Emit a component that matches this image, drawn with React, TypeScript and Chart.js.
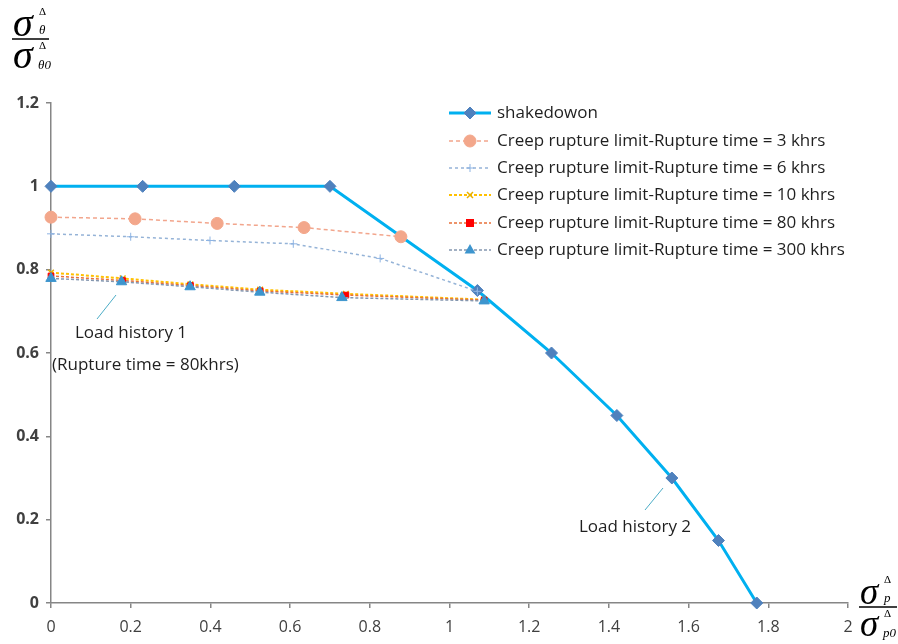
import React, { useEffect, useRef } from "react";
import { Chart, registerables } from "chart.js";

Chart.register(...registerables);

// ---- data ----
const shakedownX = [0, 0.23, 0.46, 0.7, 1.07, 1.256, 1.42, 1.558, 1.675, 1.771];
const shakedownY = [1, 1, 1, 1, 0.75, 0.6, 0.45, 0.3, 0.15, 0];

const rupture3X = [0, 0.211, 0.417, 0.635, 0.878];
const rupture3Y = [0.926, 0.922, 0.911, 0.901, 0.879];

const rupture6X = [0, 0.2, 0.399, 0.608, 0.826, 1.07];
const rupture6Y = [0.886, 0.879, 0.87, 0.862, 0.827, 0.748];

const rupture10X = [0, 0.18, 0.35, 0.525, 0.74, 1.087];
const rupture10Y = [0.793, 0.779, 0.765, 0.752, 0.742, 0.728];

const rupture80X = [0, 0.18, 0.35, 0.525, 0.74, 1.087];
const rupture80Y = [0.785, 0.774, 0.762, 0.749, 0.739, 0.727];

const rupture300X = [0, 0.177, 0.349, 0.524, 0.73, 1.087];
const rupture300Y = [0.779, 0.771, 0.759, 0.746, 0.733, 0.725];

const seriesLabels = [
  "shakedowon",
  "Creep rupture limit-Rupture time = 3 khrs",
  "Creep rupture limit-Rupture time = 6 khrs",
  "Creep rupture limit-Rupture time = 10 khrs",
  "Creep rupture limit-Rupture time = 80 khrs",
  "Creep rupture limit-Rupture time = 300 khrs",
];

const xTickValues = [0, 0.2, 0.4, 0.6, 0.8, 1, 1.2, 1.4, 1.6, 1.8, 2];
const yTickValues = [0, 0.2, 0.4, 0.6, 0.8, 1, 1.2];

const annotation1 = "Load history 1";
const annotation1b = "(Rupture time = 80khrs)";
const annotation2 = "Load history 2";

const zip = (xs: number[], ys: number[]) => xs.map((x, i) => ({ x, y: ys[i] }));

type Style = {
  line: string;
  width: number;
  dash: number[];
  point: string;
  radius: number;
  fill: string;
  stroke: string;
  pw: number;
};

const styles: Style[] = [
  { line: "#00B0F0", width: 3, dash: [], point: "rectRot", radius: 6, fill: "#4F81BD", stroke: "#4F81BD", pw: 1 },
  { line: "#F2A58C", width: 1.5, dash: [4, 3], point: "circle", radius: 6, fill: "#F3A78B", stroke: "#F3A78B", pw: 1 },
  { line: "#95B3D7", width: 1.5, dash: [3, 3], point: "cross", radius: 4, fill: "#8EB4E3", stroke: "#8EB4E3", pw: 1 },
  { line: "#FFC000", width: 2, dash: [3, 2], point: "crossRot", radius: 4, fill: "#E6B000", stroke: "#E6B000", pw: 1.5 },
  { line: "#E8703A", width: 1.5, dash: [3, 2], point: "rect", radius: 5, fill: "#FF0000", stroke: "#FF0000", pw: 1 },
  { line: "#8497B0", width: 1.5, dash: [3, 2], point: "triangle", radius: 6, fill: "#3D95CE", stroke: "#3D95CE", pw: 1 },
];

function drawMarker(ctx: CanvasRenderingContext2D, s: Style, x: number, y: number) {
  const r = s.radius;
  ctx.save();
  ctx.setLineDash([]);
  ctx.fillStyle = s.fill;
  ctx.strokeStyle = s.stroke;
  ctx.lineWidth = s.pw;
  ctx.beginPath();
  if (s.point === "rectRot") {
    ctx.moveTo(x, y - r);
    ctx.lineTo(x + r, y);
    ctx.lineTo(x, y + r);
    ctx.lineTo(x - r, y);
    ctx.closePath();
    ctx.fill();
    ctx.stroke();
  } else if (s.point === "circle") {
    ctx.arc(x, y, r, 0, Math.PI * 2);
    ctx.fill();
    ctx.stroke();
  } else if (s.point === "cross") {
    ctx.moveTo(x - r, y);
    ctx.lineTo(x + r, y);
    ctx.moveTo(x, y - r);
    ctx.lineTo(x, y + r);
    ctx.stroke();
  } else if (s.point === "crossRot") {
    const d = r * 0.75;
    ctx.moveTo(x - d, y - d);
    ctx.lineTo(x + d, y + d);
    ctx.moveTo(x + d, y - d);
    ctx.lineTo(x - d, y + d);
    ctx.stroke();
  } else if (s.point === "rect") {
    const d = r * 0.8;
    ctx.rect(x - d, y - d, 2 * d, 2 * d);
    ctx.fill();
  } else if (s.point === "triangle") {
    ctx.moveTo(x, y - r);
    ctx.lineTo(x + r * 0.9, y + r * 0.6);
    ctx.lineTo(x - r * 0.9, y + r * 0.6);
    ctx.closePath();
    ctx.fill();
  }
  ctx.restore();
}

function drawFraction(
  ctx: CanvasRenderingContext2D,
  x: number,
  barY: number,
  barW: number,
  subTop: string,
  subBottom: string,
  size: number
) {
  ctx.save();
  ctx.fillStyle = "#000";
  ctx.strokeStyle = "#000";
  ctx.textBaseline = "alphabetic";
  ctx.textAlign = "left";
  const k = size / 40;
  // numerator
  ctx.font = `italic ${size}px "Liberation Serif"`;
  ctx.fillText("σ", x + 1, barY - 3);
  ctx.font = 'italic 13px "Liberation Serif"';
  ctx.fillText(subTop, x + 27 * k, barY - 5);
  ctx.font = '11px "Liberation Serif"';
  ctx.fillText("Δ", x + 27 * k, barY - 24);
  // bar
  ctx.lineWidth = 1.5;
  ctx.beginPath();
  ctx.moveTo(x, barY);
  ctx.lineTo(x + barW, barY);
  ctx.stroke();
  // denominator
  ctx.font = `italic ${size}px "Liberation Serif"`;
  ctx.fillText("σ", x + 1, barY + 29);
  ctx.font = 'italic 13px "Liberation Serif"';
  ctx.fillText(subBottom, x + 26 * k, barY + 30);
  ctx.font = '11px "Liberation Serif"';
  ctx.fillText("Δ", x + 27 * k, barY + 10);
  ctx.restore();
}

const overlayPlugin = {
  id: "overlay",
  afterDraw(chart: any) {
    const ctx: CanvasRenderingContext2D = chart.ctx;
    // legend
    const rowYs = [113, 141, 168, 195, 223, 250];
    ctx.save();
    rowYs.forEach((ry, i) => {
      const s = styles[i];
      ctx.save();
      ctx.strokeStyle = s.line;
      ctx.lineWidth = s.width;
      ctx.setLineDash(s.dash);
      ctx.beginPath();
      ctx.moveTo(449, ry);
      ctx.lineTo(491, ry);
      ctx.stroke();
      ctx.restore();
      drawMarker(ctx, s, 470, ry);
      ctx.fillStyle = "#1f1f1f";
      ctx.font = '17px "Open Sans"';
      ctx.textAlign = "left";
      ctx.textBaseline = "middle";
      ctx.fillText(seriesLabels[i], 497, ry);
    });
    ctx.restore();

    // annotations
    ctx.save();
    ctx.fillStyle = "#1f1f1f";
    ctx.font = '17px "Open Sans"';
    ctx.textAlign = "left";
    ctx.textBaseline = "middle";
    ctx.fillText(annotation1, 75, 333);
    ctx.fillText(annotation1b, 52, 365);
    ctx.fillText(annotation2, 579, 527);
    ctx.strokeStyle = "#4BACC6";
    ctx.lineWidth = 1;
    ctx.beginPath();
    ctx.moveTo(116, 295);
    ctx.lineTo(97, 319);
    ctx.moveTo(663, 488);
    ctx.lineTo(645, 510);
    ctx.stroke();
    ctx.restore();

    // axis titles as fractions
    drawFraction(ctx, 12, 39, 37, "θ", "θ0", 40);
    drawFraction(ctx, 859, 607, 38, "p", "p0", 37);
  },
};

export default function App() {
  const ref = useRef<HTMLCanvasElement | null>(null);

  useEffect(() => {
    if (!ref.current) return;
    const sets = [
      zip(shakedownX, shakedownY),
      zip(rupture3X, rupture3Y),
      zip(rupture6X, rupture6Y),
      zip(rupture10X, rupture10Y),
      zip(rupture80X, rupture80Y),
      zip(rupture300X, rupture300Y),
    ];
    const datasets = sets.map((data, i) => {
      const s = styles[i];
      return {
        label: seriesLabels[i],
        data,
        showLine: true,
        clip: false,
        borderColor: s.line,
        borderWidth: s.width,
        borderDash: s.dash,
        pointStyle: s.point,
        pointRadius: s.point === "rect" ? 4 : s.radius,
        pointBackgroundColor: s.fill,
        pointBorderColor: s.stroke,
        pointBorderWidth: s.pw,
        fill: false,
        tension: 0,
        order: i === 0 ? 10 : 6 - i,
      };
    });

    const chart = new Chart(ref.current, {
      type: "scatter",
      data: { datasets },
      plugins: [overlayPlugin],
      options: {
        animation: false,
        responsive: false,
        maintainAspectRatio: false,
        layout: { padding: { top: 103, right: 50, left: 0, bottom: 0 } },
        plugins: { legend: { display: false }, tooltip: { enabled: false } },
        scales: {
          x: {
            type: "linear",
            min: 0,
            max: 2,
            afterFit: (s: any) => {
              s.height = 41;
            },
            afterBuildTicks: (s: any) => {
              s.ticks = xTickValues.map((v) => ({ value: v }));
            },
            ticks: {
              padding: 10,
              color: "#404040",
              font: { family: "Open Sans", size: 16 },
              callback: (v: any) => String(Math.round(Number(v) * 10) / 10),
            },
            grid: {
              drawOnChartArea: false,
              drawTicks: true,
              tickLength: 5,
              color: "#868686",
              lineWidth: 1.5,
            },
            border: { color: "#868686", width: 1.5 },
          },
          y: {
            type: "linear",
            min: 0,
            max: 1.2,
            afterFit: (s: any) => {
              s.width = 51;
            },
            afterBuildTicks: (s: any) => {
              s.ticks = yTickValues.map((v) => ({ value: v }));
            },
            ticks: {
              padding: 7,
              color: "#404040",
              font: { family: "Open Sans", size: 16, weight: "bold" },
              callback: (v: any) => String(Math.round(Number(v) * 10) / 10),
            },
            grid: {
              drawOnChartArea: false,
              drawTicks: true,
              tickLength: 5,
              color: "#868686",
              lineWidth: 1.5,
            },
            border: { color: "#868686", width: 1.5 },
          },
        },
      },
    });
    return () => chart.destroy();
  }, []);

  return (
    <div style={{ position: "absolute", left: 0, top: 0, width: 898, height: 644, background: "#fff" }}>
      <canvas ref={ref} width={898} height={644} style={{ width: 898, height: 644 }} />
    </div>
  );
}
